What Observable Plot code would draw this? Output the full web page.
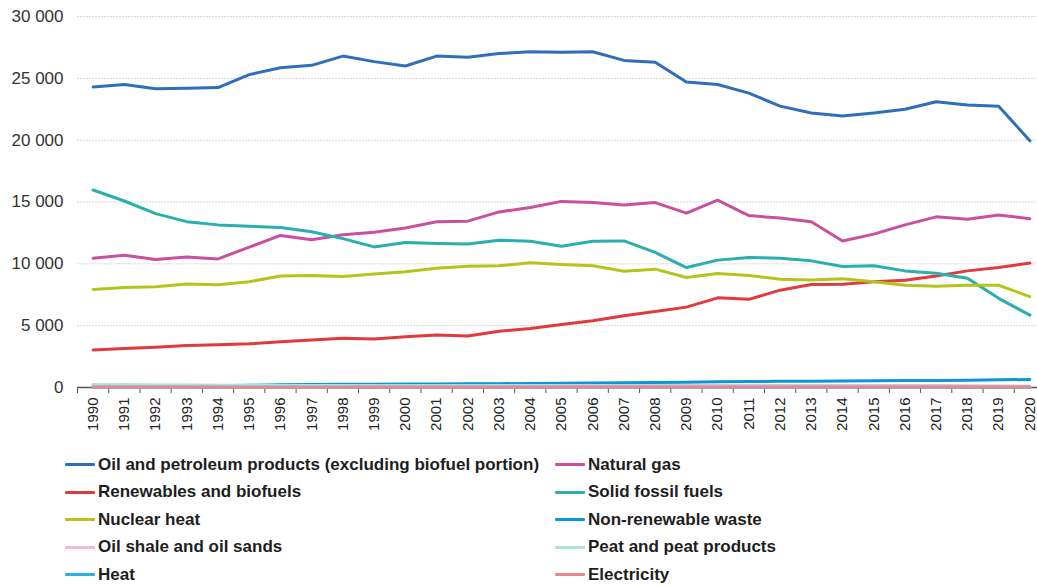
<!DOCTYPE html>
<html>
<head>
<meta charset="utf-8">
<script src="https://cdn.jsdelivr.net/npm/d3@7"></script>
<script src="https://cdn.jsdelivr.net/npm/@observablehq/plot@0.6"></script>
<style>
  html, body { margin: 0; padding: 0; background: #fff; overflow: hidden; }
  #chart svg { display: block; }
  #legend {
    display: grid;
    grid-template-columns: 490px 470px;
    grid-auto-rows: 27.5px;
    padding: 9px 0 0 65px;
    font: bold 17px "Liberation Sans", Arial, sans-serif;
    color: #1e1e1e;
  }
  .item { display: flex; align-items: center; white-space: nowrap; }
  .sw { width: 30px; height: 3px; margin-right: 3px; border-radius: 1px; flex: none; }
</style>
</head>
<body>
<div id="chart"></div>
<div id="legend"></div>
<script>
const years = d3.range(1990, 2021);
const yTicks = [0, 5000, 10000, 15000, 20000, 25000, 30000];

const oil = [24300,24500,24150,24200,24250,25300,25850,26050,26800,26350,26000,26800,26700,27000,27150,27100,27150,26450,26300,24700,24500,23800,22750,22200,21950,22200,22500,23100,22850,22750,19950];
const gas = [10450,10700,10350,10550,10400,11350,12300,11950,12350,12550,12900,13400,13450,14200,14550,15050,14950,14750,14950,14100,15150,13900,13700,13400,11850,12400,13150,13800,13600,13950,13650];
const renewables = [3040,3150,3250,3400,3460,3530,3700,3850,3980,3930,4110,4250,4170,4540,4780,5100,5400,5800,6150,6500,7250,7130,7870,8330,8350,8560,8680,9020,9430,9700,10060];
const solid = [15970,15080,14060,13410,13150,13040,12930,12600,12040,11370,11720,11640,11610,11910,11830,11430,11830,11850,10920,9700,10300,10510,10460,10240,9780,9840,9430,9240,8840,7210,5850];
const nuclear = [7930,8090,8150,8360,8310,8550,9010,9060,8980,9170,9360,9650,9810,9840,10080,9940,9840,9400,9570,8890,9210,9050,8760,8700,8800,8560,8270,8190,8270,8270,7350];
const waste = [110,120,130,140,150,180,230,250,260,270,280,290,300,310,320,340,360,390,410,430,460,480,500,510,530,550,560,570,580,620,650];
const oilShale = [230,210,190,180,170,170,170,160,160,150,150,150,150,160,160,170,170,170,170,160,170,170,170,170,170,160,160,160,150,130,110];
const peat = [250,230,210,200,190,180,170,160,160,150,150,150,140,140,140,130,130,120,120,110,110,110,100,100,90,80,80,80,70,60,50];
const heat = [20,20,20,20,20,25,25,25,25,25,25,25,25,25,25,25,25,25,25,25,25,25,25,25,25,25,25,25,25,25,25];
const electricity = [40,40,35,35,30,30,30,30,25,25,25,30,30,30,30,35,35,35,35,35,40,40,45,45,50,50,45,45,45,40,40];

const names = [
  "Oil and petroleum products (excluding biofuel portion)",
  "Natural gas",
  "Renewables and biofuels",
  "Solid fossil fuels",
  "Nuclear heat",
  "Non-renewable waste",
  "Oil shale and oil sands",
  "Peat and peat products",
  "Heat",
  "Electricity"
];
const colors = ["#2F6EBA","#C8509F","#E03A3E","#2AAFAE","#B5C41D","#0A96D8","#F3B8D4","#A8E2E4","#2EB0E6","#E68A8C"];
const values = [oil, gas, renewables, solid, nuclear, waste, oilShale, peat, heat, electricity];

const rows = names.flatMap((n, k) => years.map((y, i) => ({year: y, value: values[k][i], series: n})));
const boundaries = years.map(y => y - 0.5).concat([years[years.length - 1] + 0.5]);
const fmt = d => d3.format(",")(d).replace(/,/g, " ");

const chart = Plot.plot({
  width: 1037,
  height: 442,
  marginLeft: 77,
  marginRight: -8,
  marginTop: 16,
  marginBottom: 55,
  style: {fontFamily: "'Liberation Sans', Arial, sans-serif", background: "white", overflow: "hidden"},
  x: {type: "linear", domain: [1989.5, 2020.5]},
  y: {domain: [0, 30000]},
  color: {domain: names, range: colors},
  marks: [
    Plot.gridY(yTicks.slice(1), {stroke: "#d6d6d6", strokeOpacity: 1, strokeDasharray: "2,1"}),
    Plot.axisY(yTicks, {tickSize: 0, tickPadding: 14, fontSize: 17, fill: "#333", tickFormat: fmt, label: null}),
    Plot.ruleY([0], {stroke: "#555", strokeWidth: 1.5}),
    Plot.axisX(boundaries, {tickSize: 6, tickFormat: () => "", stroke: "#555", label: null}),
    Plot.axisX(years, {tickSize: 0, tickPadding: 10, tickRotate: -90, fontSize: 15, fill: "#222", tickFormat: d => String(d), label: null}),
    Plot.line(rows, {x: "year", y: "value", z: "series", stroke: "series", strokeWidth: 3, strokeLinejoin: "round", strokeLinecap: "round"})
  ]
});
document.getElementById("chart").appendChild(chart);

const legend = document.getElementById("legend");
names.forEach((n, k) => {
  const item = document.createElement("div");
  item.className = "item";
  const sw = document.createElement("span");
  sw.className = "sw";
  sw.style.background = colors[k];
  const t = document.createElement("span");
  t.textContent = n;
  item.appendChild(sw);
  item.appendChild(t);
  legend.appendChild(item);
});
</script>
</body>
</html>
